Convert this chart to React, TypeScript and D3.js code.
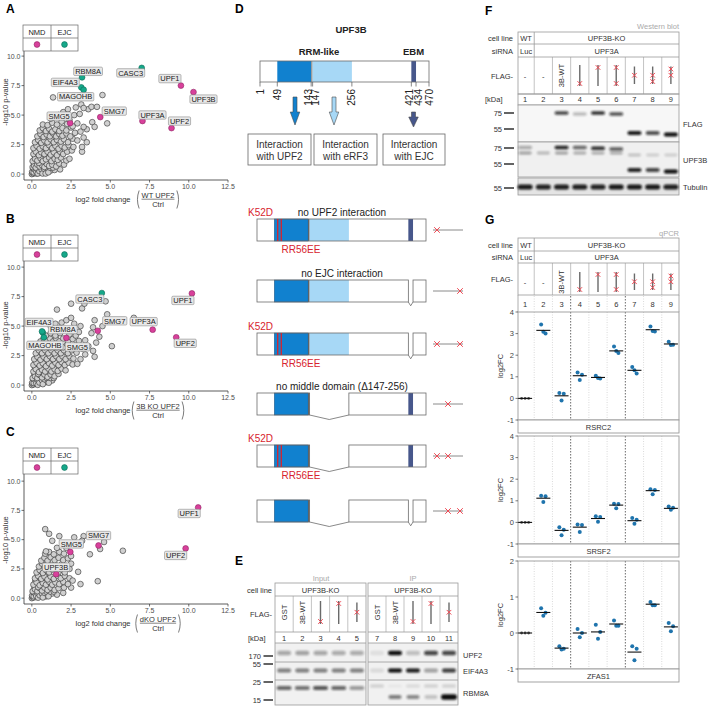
import React from "react";
import * as d3 from "d3";

const FONT = "'Liberation Sans', Arial, Helvetica, sans-serif";
let _ctx: CanvasRenderingContext2D | null = null;
function textW(s: string, size: number, weight: string = "normal"): number {
  if (!_ctx) _ctx = document.createElement("canvas").getContext("2d");
  if (!_ctx) return s.length * size * 0.6;
  _ctx.font = `${weight} ${size}px 'Liberation Sans', Arial, sans-serif`;
  return _ctx.measureText(s).width;
}

// ---------------- Volcano data (A, B, C) ----------------
const scatterTicksX = [0, 2.5, 5, 7.5, 10, 12.5];
const scatterTicksY = [0, 2.5, 5, 7.5, 10];

const bgA: [number, number][] = [
  [0,0],[0.05,0.1],[0.1,0.05],[0.15,0.2],[0.2,0.1],[0.25,0.3],[0.3,0.05],[0.35,0.2],[0.45,0.1],[0.5,0.35],[0.6,0.15],[0.7,0.3],[0.85,0.2],[1.0,0.4],[1.2,0.3],[1.45,0.35],[1.8,0.4],[0.1,0.35],[0.4,0.4],
  [0.02,0.2],[0.08,0.45],[0.12,0.15],[0.18,0.4],[0.22,0.65],[0.28,0.2],[0.32,0.45],[0.38,0.05],[0.42,0.7],[0.48,0.25],[0.55,0.55],[0.62,0.4],[0.68,0.05],[0.72,0.9],[0.78,0.45],[0.88,0.05],[0.92,0.55],[1.05,0.15],[1.15,0.55],[1.35,0.55],
  [0.15,0.95],[0.3,1.0],[0.6,1.05],[0.8,1.3],[1.0,1.05],[0.4,1.5],[0.7,1.55],[0.95,1.6],[0.2,1.45],[0.55,1.8],[0.35,1.75],[1.15,1.75],[0.85,2.0],[0.6,2.45],[0.45,2.3],
  [0.05,0.6],[0.15,0.7],[0.25,0.55],[0.35,0.8],[0.5,0.65],[0.65,0.75],[0.8,0.6],[0.95,0.85],[1.1,0.7],[1.3,0.8],[1.55,0.65],[1.75,0.9],[2.05,0.8],[0.45,0.95],
  [0.05,1.1],[0.2,1.3],[0.35,1.15],[0.55,1.35],[0.7,1.1],[0.9,1.25],[1.1,1.4],[1.25,1.1],[1.45,1.3],[1.65,1.2],[1.85,1.4],[2.2,1.15],[2.4,1.3],
  [0.1,1.7],[0.25,1.9],[0.45,1.6],[0.6,1.85],[0.8,1.7],[1.0,1.9],[1.2,1.65],[1.4,1.85],[1.6,1.6],[1.8,1.9],[2.0,1.7],[2.25,1.9],[2.55,2.0],[3.2,1.9],
  [0.1,2.2],[0.3,2.4],[0.5,2.15],[0.7,2.35],[0.9,2.2],[1.1,2.45],[1.3,2.2],[1.5,2.4],[1.7,2.15],[1.9,2.4],[2.1,2.25],[2.35,2.45],[2.65,2.3],[3.2,2.3],
  [0.2,2.7],[0.4,2.9],[0.6,2.65],[0.8,2.85],[1.0,2.7],[1.2,2.95],[1.4,2.7],[1.6,2.9],[1.85,2.75],[2.05,2.95],[2.3,2.7],[2.6,3.0],[2.9,2.85],[3.5,2.7],
  [0.35,3.2],[0.55,3.4],[0.75,3.15],[0.95,3.35],[1.15,3.2],[1.35,3.45],[1.55,3.2],[1.75,3.4],[1.95,3.25],[2.2,3.45],[2.45,3.2],[2.75,3.5],[3.3,3.1],
  [0.5,3.7],[0.7,3.9],[0.9,3.65],[1.1,3.85],[1.3,3.6],[1.5,3.8],[1.75,3.65],[1.95,3.9],[2.2,3.7],[2.5,3.95],[3.1,3.6],[3.5,3.8],
  [0.7,4.2],[1.0,4.15],[1.3,4.35],[1.6,4.2],[1.9,4.45],[2.25,4.25],[2.9,4.3],[3.3,4.0],[3.85,4.4],[4.0,4.0],[2.6,4.05],
  [1.2,4.7],[1.7,5.0],[2.0,5.25],[2.2,4.9],[2.4,4.6],[2.7,5.0],[3.05,5.1],[2.3,5.5],[4.8,4.3],[3.6,5.5],[1.5,4.9],
  [1.35,6.5],[2.8,5.65],[3.15,5.9],[3.3,5.6],[3.8,5.7],[4.15,5.7],[4.5,6.7]
];
const genesA = ["CASC3","UPF1","UPF3B","UPF3A","UPF2","SMG7","SMG5","RBM8A","EIF4A3","MAGOHB"];
const groupsA = ["EJC","NMD","NMD","NMD","NMD","NMD","NMD","EJC","EJC","EJC"];
const fcA = [7.0, 9.5, 10.3, 7.05, 8.9, 4.36, 2.44, 3.2, 3.15, 3.3];
const pA = [9.0, 7.5, 6.95, 4.5, 3.9, 4.83, 4.32, 8.2, 7.35, 7.15];

const bgB: [number, number][] = [
  [0,0],[0.05,0.1],[0.1,0.05],[0.15,0.25],[0.25,0.1],[0.3,0.3],[0.4,0.15],[0.5,0.4],[0.6,0.2],[0.75,0.35],[0.9,0.25],[1.1,0.45],[1.3,0.4],[0.1,0.4],
  [0.02,0.2],[0.08,0.5],[0.12,0.18],[0.2,0.45],[0.22,0.62],[0.28,0.15],[0.34,0.48],[0.38,0.02],[0.44,0.72],[0.48,0.22],[0.56,0.58],[0.64,0.42],[0.7,0.08],[0.74,0.95],[0.8,0.5],[0.95,0.6],[1.08,0.2],[1.18,0.6],[1.4,0.6],
  [0.15,0.98],[0.3,1.05],[0.6,1.02],[0.82,1.35],[1.02,1.08],[0.42,1.52],[0.72,1.58],[0.98,1.62],[0.22,1.48],[0.58,1.82],[0.38,1.78],[1.18,1.78],[0.88,2.05],[0.62,2.5],[0.48,2.32],
  [0.05,0.6],[0.2,0.75],[0.35,0.6],[0.5,0.85],[0.65,0.65],[0.8,0.9],[1.0,0.7],[1.2,0.9],[1.45,0.75],[1.7,0.95],[0.4,0.95],
  [0.1,1.15],[0.25,1.35],[0.45,1.1],[0.65,1.3],[0.85,1.15],[1.05,1.4],[1.25,1.15],[1.45,1.35],[1.65,1.2],[1.9,1.4],[2.15,1.25],
  [0.1,1.7],[0.3,1.9],[0.5,1.65],[0.7,1.85],[0.9,1.6],[1.1,1.85],[1.3,1.65],[1.5,1.9],[1.7,1.7],[1.9,1.95],[2.1,1.7],[2.35,1.9],[2.6,1.75],[2.9,1.8],
  [0.15,2.2],[0.35,2.4],[0.55,2.15],[0.75,2.4],[0.95,2.2],[1.15,2.45],[1.35,2.2],[1.55,2.45],[1.75,2.2],[1.95,2.45],[2.15,2.2],[2.4,2.45],[2.65,2.25],[3.1,2.2],
  [0.25,2.7],[0.45,2.95],[0.65,2.7],[0.85,2.95],[1.05,2.7],[1.25,2.95],[1.45,2.7],[1.65,2.95],[1.85,2.7],[2.05,2.95],[2.3,2.7],[2.55,2.95],[2.85,2.75],[3.4,2.6],[4.0,2.4],[3.9,2.9],
  [0.4,3.2],[0.6,3.45],[0.8,3.2],[1.0,3.45],[1.2,3.2],[1.4,3.45],[1.6,3.2],[1.8,3.45],[2.0,3.2],[2.25,3.45],[2.5,3.2],[2.8,3.4],[3.2,3.1],[3.6,3.3],[5.1,3.3],
  [0.55,3.7],[0.75,3.95],[0.95,3.7],[1.15,3.95],[1.35,3.7],[1.55,3.95],[1.75,3.7],[2.0,3.95],[2.3,3.7],[2.6,3.9],[3.0,3.75],[3.4,3.8],[4.1,3.6],
  [0.9,4.2],[1.2,4.4],[1.5,4.2],[1.8,4.4],[2.4,4.3],[2.8,4.2],[3.8,4.4],[4.3,4.1],[3.0,4.5],
  [1.2,5.0],[1.5,5.2],[1.9,5.3],[2.2,5.5],[2.6,4.7],[2.7,5.2],[3.1,5.0],[3.9,4.9],[4.5,5.0],[4.0,5.5],[1.8,4.8],
  [1.6,6.4],[2.5,5.7],[2.5,6.9],[3.2,6.5],[3.35,6.9],[3.5,7.3],[4.7,7.1],[4.8,6.0],[6.5,5.7]
];
const genesB = ["UPF1","CASC3","UPF3A","UPF2","SMG7","SMG5","RBM8A","EIF4A3","MAGOHB"];
const groupsB = ["NMD","EJC","NMD","NMD","NMD","NMD","EJC","EJC","EJC"];
const fcB = [10.2, 4.46, 7.7, 9.2, 4.2, 2.2, 0.7, 0.65, 0.77];
const pB = [7.77, 7.8, 4.7, 4.05, 4.6, 4.0, 4.45, 4.55, 4.05];

const bgC: [number, number][] = [
  [0,0],[0.05,0.1],[0.1,0.05],[0.15,0.25],[0.25,0.1],[0.3,0.3],[0.4,0.15],[0.5,0.4],[0.6,0.2],[0.75,0.35],[0.9,0.15],[1.1,0.3],[1.3,0.4],[1.6,0.3],[2.0,0.45],[0.1,0.4],
  [0.02,0.22],[0.08,0.48],[0.12,0.16],[0.2,0.42],[0.24,0.64],[0.28,0.18],[0.34,0.46],[0.4,0.04],[0.44,0.7],[0.5,0.24],[0.56,0.56],[0.64,0.4],[0.7,0.06],[0.74,0.9],[0.8,0.46],[0.92,0.56],[1.06,0.16],[1.18,0.56],[1.4,0.56],
  [0.16,0.96],[0.3,1.02],[0.6,1.04],[0.82,1.32],[1.02,1.06],[0.42,1.5],[0.72,1.56],[0.96,1.6],[0.22,1.46],[0.56,1.82],[0.36,1.76],[1.16,1.76],[0.86,2.02],[0.62,2.46],[0.46,2.32],
  [0.05,0.6],[0.2,0.75],[0.35,0.6],[0.5,0.85],[0.65,0.65],[0.8,0.9],[1.0,0.7],[1.2,0.9],[1.45,0.7],[1.7,0.85],[2.05,0.9],[2.5,0.9],[0.4,0.95],
  [0.1,1.15],[0.3,1.35],[0.5,1.1],[0.7,1.3],[0.9,1.15],[1.1,1.4],[1.3,1.15],[1.5,1.35],[1.75,1.2],[2.0,1.4],[2.3,1.2],[3.1,1.2],[4.2,1.45],
  [0.2,1.7],[0.4,1.9],[0.6,1.65],[0.8,1.85],[1.0,1.6],[1.2,1.85],[1.4,1.65],[1.65,1.9],[1.85,1.7],[2.1,1.9],[2.4,1.7],[2.6,1.5],
  [0.3,2.2],[0.5,2.4],[0.7,2.15],[0.9,2.4],[1.1,2.2],[1.3,2.45],[1.7,2.2],[1.9,2.45],[2.1,2.2],[2.4,2.5],[2.95,2.25],
  [0.45,2.7],[0.65,2.95],[0.85,2.7],[1.05,2.95],[1.25,2.7],[1.45,2.95],[1.65,2.7],[1.9,2.9],[2.2,2.75],[2.5,2.95],
  [0.6,3.2],[0.8,3.45],[1.0,3.2],[1.2,3.5],[1.45,3.25],[1.7,3.45],[2.0,3.25],[2.3,3.4],[0.85,3.8],[1.1,3.95],[1.4,3.75],[1.75,3.95],[2.05,3.8],[2.5,3.6],[3.7,3.75],
  [0.9,4.0],[1.6,4.3],[2.2,4.3],[1.3,4.9],[0.85,5.9],[1.1,5.5],[1.75,5.3],[2.7,5.2],[3.3,5.3],[3.2,4.9],[4.6,4.8],[4.35,4.2],[5.8,4.05],[2.2,4.6]
];
const genesC = ["UPF1","UPF2","SMG7","SMG5","UPF3B"];
const groupsC = ["NMD","NMD","NMD","NMD","NMD"];
const fcC = [10.6, 9.8, 4.25, 2.45, 1.55];
const pC = [7.75, 4.25, 4.5, 3.95, 2.05];

// label placement (pixel offsets from the point)
const offA: Record<string, [number, number]> = {
  CASC3: [-11, 5], UPF1: [-11, -7], UPF3B: [10, 7], UPF3A: [10, -6], UPF2: [8, -7],
  SMG7: [14, -6], SMG5: [-11, -7], RBM8A: [6, -6], EIF4A3: [-16, -5], MAGOHB: [-8, 7]
};
const offB: Record<string, [number, number]> = {
  UPF1: [-9, 7], CASC3: [-12, 6], UPF3A: [-9, -8], UPF2: [9, 6], SMG7: [17, -10],
  SMG5: [11, 9], EIF4A3: [-3, -9], RBM8A: [20, -3], MAGOHB: [1, 8]
};
const offC: Record<string, [number, number]> = {
  UPF1: [-9, 6], UPF2: [-10, 7], SMG7: [0, -10], SMG5: [1, -8], UPF3B: [0, -7]
};

// ---------------- Panel D data ----------------
const topTicks = [1, 49, 143, 147, 256, 421, 434, 470];
const variantTitles = ["no UPF2 interaction", "no EJC interaction", "", "no middle domain (\u0394147-256)", "", ""];
const variantMut = [true, false, true, false, true, false];
const variantDelMid = [false, false, false, true, true, true];
const variantDelEBM = [false, true, true, false, false, true];
const variantCross = [["L"], ["R"], ["L", "R"], ["M"], ["L", "M"], ["M", "R"]];

// ---------------- Panel E data ----------------
const eLanesIn = [1, 2, 3, 4, 5];
const eLanesIp = [7, 8, 9, 10, 11];
const eFlag = ["GST", "3B-WT", "N", "C", "M"];
const eInUPF2 = [0.32, 0.34, 0.32, 0.3, 0.3];
const eInEIF4A3 = [0.5, 0.5, 0.5, 0.5, 0.5];
const eInRBM8A = [0.6, 0.55, 0.68, 0.6, 0.38];
const eIpUPF2 = [0.08, 1.0, 0.22, 0.75, 0.75];
const eIpEIF4A3 = [0.1, 1.0, 0.95, 0.35, 0.8];
const eIpRBM8A = [0.0, 0.5, 0.45, 0.2, 1.0];
const eIpRBM8Atop = [0.15, 0.04, 0.1, 0.15, 0.15];

// ---------------- Panel F / G data ----------------
const fgLanes = [1, 2, 3, 4, 5, 6, 7, 8, 9];
const fgFlag = ["-", "-", "3B-WT", "N", "C", "NC", "M", "MN", "MC"];
const fFlagUpper = [0, 0, 0.75, 0.25, 0.85, 0.7, 0, 0, 0];
const fFlagLower = [0, 0, 0, 0, 0, 0, 0.95, 0.7, 1.0];
const fUpf3bFull = [0.3, 0, 0.9, 0.6, 0.85, 0.65, 0, 0, 0];
const fUpf3bEndo = [0.35, 0.25, 0.35, 0.3, 0.3, 0.3, 0.2, 0.15, 0.15];
const fUpf3bDelta = [0, 0, 0, 0, 0, 0, 0.9, 0.75, 1.0];
const fTubulin = [0.95, 0.9, 0.92, 0.92, 0.9, 0.95, 0.95, 0.95, 0.92];

const rsrc2Mean = [0, 3.15, 0.12, 1.05, 0.97, 2.2, 1.3, 3.18, 2.52];
const rsrc2Reps = [[0,0,0],[3.42,3.0,3.08],[0.25,0.22,-0.1],[1.2,1.1,0.85],[1.05,0.92,0.95],[2.4,2.1,2.2],[1.45,1.15,1.3],[3.33,3.1,3.12],[2.62,2.48,2.47]];
const srsf2Mean = [0, 1.12, -0.37, -0.22, 0.18, 0.8, 0.08, 1.47, 0.65];
const srsf2Reps = [[0,0,0],[1.23,1.21,0.94],[-0.22,-0.34,-0.6],[-0.1,-0.12,-0.45],[0.28,0.25,0.03],[0.86,0.85,0.66],[0.2,0.12,-0.06],[1.53,1.5,1.3],[0.74,0.68,0.58]];
const zfas1Mean = [0, 0.57, -0.42, 0, 0.03, 0.25, -0.53, 0.8, 0.17];
const zfas1Reps = [[0,0,0],[0.69,0.56,0.48],[-0.37,-0.44,-0.46],[0.11,0,-0.12],[0.23,0.03,-0.16],[0.35,0.2,0.2],[-0.37,-0.44,-0.76],[0.86,0.77,0.77],[0.28,0.19,0.05]];
const ticksWide = [-1, 0, 1, 2, 3, 4];
const ticksNarrow = [-1, 0, 1, 2];

// ---------------- styles ----------------
const PINK = "#d8409b";
const PINK_S = "#8e2463";
const GREEN = "#16a88a";
const GREEN_S = "#0b6b57";
const DB = "#1181cf";
const LB = "#a7d8f6";
const EB = "#47578b";
const RED = "#d7232e";
const XRED = "#ef4a55";
const TXT = "#333";
const BOX = "#9a9a9a";

function Cross({ x, y, s = 2.6 }: { x: number; y: number; s?: number }) {
  return (
    <g stroke={XRED} strokeWidth={1}>
      <line x1={x - s} y1={y - s} x2={x + s} y2={y + s} />
      <line x1={x - s} y1={y + s} x2={x + s} y2={y - s} />
    </g>
  );
}

function PanelLabel({ x, y, t }: { x: number; y: number; t: string }) {
  return <text x={x} y={y} fontSize={12} fontWeight="bold" fill="#000">{t}</text>;
}

function Scatter(props: {
  bg: [number, number][]; genes: string[]; groups: string[]; fc: number[]; p: number[];
  offsets: Record<string, [number, number]>; axisY: number; unit: number; legendTop: number;
  ylabelY: number; numerator: string;
}) {
  const { bg, genes, groups, fc, p, offsets, axisY, unit, legendTop, ylabelY, numerator } = props;
  const x = d3.scaleLinear().domain([-0.5, 12.5]).range([24, 228]);
  const y = d3.scaleLinear().domain([-0.5, 10]).range([axisY, axisY - 10.5 * unit]);
  const fmt = d3.format(".1f");
  const axTop = legendTop + 26;
  const numW = textW(numerator, 7.5);
  const fx = 158;
  const lx = fx - numW / 2 - 4;
  const rx = fx + numW / 2 + 4;
  return (
    <g>
      <line x1={24} x2={228} y1={axisY} y2={axisY} stroke="#333" strokeWidth={0.8} />
      <line x1={24} x2={24} y1={axTop} y2={axisY} stroke="#333" strokeWidth={0.8} />
      {scatterTicksX.map((t) => (
        <g key={"x" + t}>
          <line x1={x(t)} x2={x(t)} y1={axisY} y2={axisY + 2.5} stroke="#333" strokeWidth={0.7} />
          <text x={x(t)} y={axisY + 9} textAnchor="middle" fontSize={7} fill="#4d4d4d">{fmt(t)}</text>
        </g>
      ))}
      {scatterTicksY.map((t) => (
        <g key={"y" + t}>
          <line x1={21.5} x2={24} y1={y(t)} y2={y(t)} stroke="#333" strokeWidth={0.7} />
          <text x={20.5} y={y(t) + 2.5} textAnchor="end" fontSize={7} fill="#4d4d4d">{fmt(t)}</text>
        </g>
      ))}
      {bg.map((d, i) => (
        <circle key={"b" + i} cx={x(d[0])} cy={y(d[1])} r={2.85} fill="#d0d0d0" stroke="#2e2e2e" strokeWidth={0.6} />
      ))}
      {genes.map((g, i) => (
        <circle key={"h" + g} cx={x(fc[i])} cy={y(p[i])} r={2.9}
          fill={groups[i] === "NMD" ? PINK : GREEN} stroke={groups[i] === "NMD" ? PINK_S : GREEN_S} strokeWidth={0.6} />
      ))}
      {genes.map((g, i) => {
        const [dx, dy] = offsets[g];
        const cx = x(fc[i]) + dx;
        const cy = y(p[i]) + dy;
        const w = textW(g, 7.5) + 3;
        return (
          <g key={"l" + g}>
            <rect x={cx - w / 2} y={cy - 4.2} width={w} height={8.4} rx={1.2} fill="#e8e8e8" stroke="#8a8a8a" strokeWidth={0.6} />
            <text x={cx} y={cy + 2.7} textAnchor="middle" fontSize={7.5} fill="#1a1a1a">{g}</text>
          </g>
        );
      })}
      {/* legend */}
      <rect x={23} y={legendTop} width={55} height={26} fill="#fff" stroke="#666" strokeWidth={0.7} />
      <line x1={23} x2={78} y1={legendTop + 13} y2={legendTop + 13} stroke="#666" strokeWidth={0.7} />
      <line x1={51} x2={51} y1={legendTop} y2={legendTop + 26} stroke="#666" strokeWidth={0.7} />
      <text x={37} y={legendTop + 9.5} textAnchor="middle" fontSize={7.5} fill="#222">NMD</text>
      <text x={64.5} y={legendTop + 9.5} textAnchor="middle" fontSize={7.5} fill="#222">EJC</text>
      <circle cx={37} cy={legendTop + 19.5} r={2.9} fill={PINK} stroke={PINK_S} strokeWidth={0.6} />
      <circle cx={64.5} cy={legendTop + 19.5} r={2.9} fill={GREEN} stroke={GREEN_S} strokeWidth={0.6} />
      {/* axis titles */}
      <text transform={`translate(7.5,${ylabelY}) rotate(-90)`} textAnchor="middle" fontSize={7.5} fill="#333">-log10 p-value</text>
      <text x={103} y={axisY + 22} textAnchor="middle" fontSize={7.5} fill="#333">log2 fold change</text>
      <text x={fx} y={axisY + 17.5} textAnchor="middle" fontSize={7.5} fill="#333">{numerator}</text>
      <line x1={fx - numW / 2} x2={fx + numW / 2} y1={axisY + 19.2} y2={axisY + 19.2} stroke="#333" strokeWidth={0.6} />
      <text x={fx} y={axisY + 26.5} textAnchor="middle" fontSize={7.5} fill="#333">Ctrl</text>
      <path d={`M${lx + 1.6},${axisY + 10.5} Q${lx - 1.8},${axisY + 19.5} ${lx + 1.6},${axisY + 28.5}`} fill="none" stroke="#444" strokeWidth={0.7} />
      <path d={`M${rx - 1.6},${axisY + 10.5} Q${rx + 1.8},${axisY + 19.5} ${rx - 1.6},${axisY + 28.5}`} fill="none" stroke="#444" strokeWidth={0.7} />
    </g>
  );
}

function Arrow({ x, y1, y2, hs, fill }: { x: number; y1: number; y2: number; hs: number; fill: string }) {
  const sw = 4, hw = 9.5;
  const pts = [[x - sw / 2, y1], [x + sw / 2, y1], [x + sw / 2, hs], [x + hw / 2, hs], [x, y2], [x - hw / 2, hs], [x - sw / 2, hs]];
  return <polygon points={pts.map((p) => p.join(",")).join(" ")} fill={fill} stroke="#4a4a4a" strokeWidth={0.6} />;
}

function PanelD() {
  const s = d3.scaleLinear().domain([1, 470]).range([260, 429]);
  const v = d3.scaleLinear().domain([1, 470]).range([257, 426]);
  const variantTop = [219, 280, 333, 393, 445, 500];
  const H = 22;
  const labelShift: Record<number, number> = { 143: -2.8, 147: 2.8, 421: -2.2, 434: 2.2 };
  return (
    <g>
      <text x={351} y={33} textAnchor="middle" fontSize={9.5} fontWeight="bold" fill="#222">UPF3B</text>
      <text x={319} y={54.5} textAnchor="middle" fontSize={9.5} fontWeight="bold" fill="#222">RRM-like</text>
      <text x={413.5} y={54.5} textAnchor="middle" fontSize={9.5} fontWeight="bold" fill="#222">EBM</text>
      <rect x={s(1)} y={61} width={s(470) - s(1)} height={21} fill="#fff" />
      <rect x={s(49)} y={61} width={s(143) - s(49)} height={21} fill={DB} />
      <rect x={s(143)} y={61} width={s(147) - s(143)} height={21} fill="#8d8d8d" />
      <rect x={s(147)} y={61} width={s(256) - s(147)} height={21} fill={LB} />
      <rect x={s(421)} y={61} width={s(434) - s(421)} height={21} fill={EB} />
      <rect x={s(1)} y={61} width={s(470) - s(1)} height={21} fill="none" stroke="#6b6b6b" strokeWidth={0.8} />
      {topTicks.map((t) => (
        <g key={t}>
          <line x1={s(t)} x2={s(t)} y1={82} y2={86.5} stroke="#555" strokeWidth={0.7} />
          <text transform={`translate(${s(t) + (labelShift[t] || 0) + 3.5},89) rotate(-90)`} textAnchor="end" fontSize={10} fill="#222">{t}</text>
        </g>
      ))}
      <Arrow x={295} y1={97} y2={125} hs={112} fill={DB} />
      <Arrow x={334} y1={97} y2={125} hs={112} fill={LB} />
      <Arrow x={413.5} y1={112} y2={127} hs={117} fill={EB} />
      {[[248, 311, "with UPF2"], [314, 377, "with eRF3"], [383, 445, "with EJC"]].map(([a, b, t]) => (
        <g key={t as string}>
          <rect x={a as number} y={134} width={(b as number) - (a as number)} height={31} fill="#fff" stroke="#666" strokeWidth={0.8} />
          <text x={((a as number) + (b as number)) / 2} y={148} textAnchor="middle" fontSize={10} fill="#333">Interaction</text>
          <text x={((a as number) + (b as number)) / 2} y={159.5} textAnchor="middle" fontSize={10} fill="#333">{t}</text>
        </g>
      ))}
      {variantTop.map((yt, i) => {
        const yb = yt + H;
        const delMid = variantDelMid[i];
        const delEBM = variantDelEBM[i];
        const segs: [number, number][] = [];
        const ends = delEBM ? [[v(1), v(421)], [v(434), v(470)]] : [[v(1), v(470)]];
        ends.forEach(([a, b]) => {
          if (delMid && a < v(147) && b > v(256)) {
            segs.push([a, v(147)]);
            segs.push([v(256), b]);
          } else segs.push([a, b]);
        });
        return (
          <g key={i}>
            {variantTitles[i] && (
              <text x={342} y={yt - 3.5} textAnchor="middle" fontSize={10} fill="#222">{variantTitles[i]}</text>
            )}
            {segs.map(([a, b], k) => <rect key={k} x={a} y={yt} width={b - a} height={H} fill="#fff" />)}
            <rect x={v(49)} y={yt} width={v(143) - v(49)} height={H} fill={DB} stroke="#24507a" strokeWidth={0.5} />
            <rect x={v(143)} y={yt} width={v(147) - v(143)} height={H} fill="#555" />
            {!delMid && <rect x={v(147)} y={yt} width={v(256) - v(147)} height={H} fill={LB} />}
            {!delEBM && <rect x={v(421)} y={yt} width={v(434) - v(421)} height={H} fill={EB} />}
            {segs.map(([a, b], k) => <rect key={"o" + k} x={a} y={yt} width={b - a} height={H} fill="none" stroke="#6b6b6b" strokeWidth={0.8} />)}
            {delMid && (
              <polyline points={`${v(147)},${yb} ${(v(147) + v(256)) / 2},${yb + 4.5} ${v(256)},${yb}`} fill="none" stroke="#6b6b6b" strokeWidth={0.8} />
            )}
            {delEBM && (
              <polyline points={`${v(421)},${yb} ${(v(421) + v(434)) / 2},${yb + 3.8} ${v(434)},${yb}`} fill="none" stroke="#6b6b6b" strokeWidth={0.8} />
            )}
            {variantMut[i] && (
              <g>
                <line x1={v(49) + 3.4} x2={v(49) + 3.4} y1={yt} y2={yb} stroke={RED} strokeWidth={1.3} />
                <line x1={v(49) + 7} x2={v(49) + 7} y1={yt} y2={yb} stroke={RED} strokeWidth={1.3} />
                <text x={248} y={yt - 3} fontSize={10} fill={RED}>K52D</text>
                <text x={301} y={yb + 11.5} textAnchor="middle" fontSize={10} fill={RED}>RR56EE</text>
              </g>
            )}
            <line x1={433} x2={463} y1={yt + H / 2} y2={yt + H / 2} stroke="#8a8a8a" strokeWidth={1} />
            {variantCross[i].map((c) => (
              <Cross key={c} x={c === "L" ? 437 : c === "M" ? 448 : 460} y={yt + H / 2} s={2.8} />
            ))}
          </g>
        );
      })}
    </g>
  );
}

function Band({ x, y, w, h, k }: { x: number; y: number; w: number; h: number; k: number }) {
  if (k <= 0) return null;
  return <rect x={x - w / 2} y={y - h / 2} width={w} height={h} rx={h / 2} fill="#0d0d0d" opacity={k} filter="url(#blur)" />;
}

function Construct({ x, top, bottom, code }: { x: number; top: number; bottom: number; code: string }) {
  const short = code.includes("M");
  const t = short ? top + 1.5 : top;
  const b = short ? bottom - 2 : bottom;
  const marks: number[] = [];
  if (code.includes("C")) marks.push(t + 2.5);
  if (code.includes("M")) marks.push((t + b) / 2);
  if (code.includes("N")) marks.push(b - 2.5);
  return (
    <g>
      <line x1={x} x2={x} y1={t} y2={b} stroke="#6a6a6a" strokeWidth={1.4} />
      {marks.map((m, i) => <Cross key={i} x={x} y={m} s={2.3} />)}
    </g>
  );
}

function FlagCell({ x, top, bottom, code }: { x: number; top: number; bottom: number; code: string }) {
  const cy = (top + bottom) / 2;
  if (code === "-") return <text x={x} y={cy + 3} textAnchor="middle" fontSize={7.5} fill={TXT}>-</text>;
  if (code === "GST" || code === "3B-WT")
    return <text transform={`translate(${x + 2.6},${cy}) rotate(-90)`} textAnchor="middle" fontSize={7.5} fill={TXT}>{code}</text>;
  return <Construct x={x} top={top} bottom={bottom} code={code} />;
}

function PanelE() {
  const bl = d3.scaleBand<number>().domain(eLanesIn).range([275, 366]);
  const br = d3.scaleBand<number>().domain(eLanesIp).range([368, 458]);
  const top = 583, r1 = 596, r2 = 632, r3 = 643, b1 = 662, b2 = 680, bot = 705;
  const boxes: [d3.ScaleBand<number>, number[], number[], number[], number[], number[] | null][] = [
    [bl, eLanesIn, eInUPF2, eInEIF4A3, eInRBM8A, null],
    [br, eLanesIp, eIpUPF2, eIpEIF4A3, eIpRBM8A, eIpRBM8Atop],
  ];
  return (
    <g>
      <text x={321} y={580.5} textAnchor="middle" fontSize={7.5} fill="#aaa">Input</text>
      <text x={413} y={580.5} textAnchor="middle" fontSize={7.5} fill="#aaa">IP</text>
      <text x={272} y={592.5} textAnchor="end" fontSize={7.5} fill={TXT}>cell line</text>
      <text x={272} y={617} textAnchor="end" fontSize={7.5} fill={TXT}>FLAG-</text>
      <text x={248} y={641} fontSize={7.5} fill={TXT}>[kDa]</text>
      {[["170", 656], ["55", 664], ["25", 682], ["15", 700]].map(([t, yy]) => (
        <g key={t as string}>
          <text x={261} y={(yy as number) + 2.7} textAnchor="end" fontSize={7.5} fill={TXT}>{t}</text>
          <line x1={263.5} x2={273} y1={yy as number} y2={yy as number} stroke="#222" strokeWidth={1.4} />
        </g>
      ))}
      {boxes.map(([sc, lanes, upf2, eif, rbm, rbmTop], bi) => {
        const [x0, x1] = sc.range();
        const bw = sc.bandwidth();
        return (
          <g key={bi}>
            <rect x={x0} y={r3} width={x1 - x0} height={bot - r3} fill="#f1f1f1" />
            <rect x={x0} y={top} width={x1 - x0} height={bot - top} fill="none" stroke={BOX} strokeWidth={0.8} />
            {[r1, r2, r3, b1, b2].map((yy) => <line key={yy} x1={x0} x2={x1} y1={yy} y2={yy} stroke={BOX} strokeWidth={0.8} />)}
            <text x={(x0 + x1) / 2} y={592.5} textAnchor="middle" fontSize={7.5} fill={TXT}>UPF3B-KO</text>
            {lanes.slice(1).map((l) => (
              <line key={l} x1={sc(l)!} x2={sc(l)!} y1={r1} y2={r2} stroke={BOX} strokeWidth={0.6} />
            ))}
            {lanes.map((l, i) => {
              const cx = sc(l)! + bw / 2;
              return (
                <g key={"c" + l}>
                  <FlagCell x={cx} top={601} bottom={624} code={eFlag[i]} />
                  <text x={cx} y={640.5} textAnchor="middle" fontSize={7.5} fill={TXT}>{l}</text>
                  <Band x={cx} y={653} w={14} h={4.5} k={upf2[i]} />
                  <Band x={cx} y={670.5} w={14} h={3.8} k={eif[i]} />
                  {bi === 0 ? (
                    <Band x={cx} y={688} w={15} h={4} k={rbm[i]} />
                  ) : (
                    <g>
                      <Band x={cx} y={686} w={14} h={3} k={rbmTop ? rbmTop[i] : 0} />
                      <Band x={cx} y={697} w={i === 4 ? 16 : 13} h={i === 4 ? 5.5 : 3.8} k={rbm[i]} />
                    </g>
                  )}
                </g>
              );
            })}
          </g>
        );
      })}
      <text x={463} y={658} fontSize={7.5} fill={TXT}>UPF2</text>
      <text x={463} y={673.5} fontSize={7.5} fill={TXT}>EIF4A3</text>
      <text x={463} y={696} fontSize={7.5} fill={TXT}>RBM8A</text>
    </g>
  );
}

function LaneHeader({ top, r1, r2, r3, lineTop, lineBottom, sc }: {
  top: number; r1: number; r2: number; r3: number; lineTop: number; lineBottom: number; sc: d3.ScaleBand<number>;
}) {
  const bw = sc.bandwidth();
  const x0 = 518, x1 = 679;
  const split = sc(2)!;
  return (
    <g>
      <rect x={x0} y={top} width={x1 - x0} height={r3 - top} fill="none" stroke={BOX} strokeWidth={0.8} />
      <line x1={x0} x2={x1} y1={r1} y2={r1} stroke={BOX} strokeWidth={0.8} />
      <line x1={x0} x2={x1} y1={r2} y2={r2} stroke={BOX} strokeWidth={0.8} />
      <line x1={split} x2={split} y1={top} y2={r2} stroke={BOX} strokeWidth={0.8} />
      {fgLanes.slice(1).map((l) => (
        <line key={l} x1={sc(l)!} x2={sc(l)!} y1={r2} y2={r3} stroke={BOX} strokeWidth={0.6} />
      ))}
      <text x={513} y={r1 - 3.5} textAnchor="end" fontSize={7.5} fill={TXT}>cell line</text>
      <text x={513} y={r2 - 3.5} textAnchor="end" fontSize={7.5} fill={TXT}>siRNA</text>
      <text x={513} y={(r2 + r3) / 2 + 3} textAnchor="end" fontSize={7.5} fill={TXT}>FLAG-</text>
      <text x={(x0 + split) / 2} y={r1 - 3.5} textAnchor="middle" fontSize={7.5} fill={TXT}>WT</text>
      <text x={(split + x1) / 2} y={r1 - 3.5} textAnchor="middle" fontSize={7.5} fill={TXT}>UPF3B-KO</text>
      <text x={(x0 + split) / 2} y={r2 - 3.5} textAnchor="middle" fontSize={7.5} fill={TXT}>Luc</text>
      <text x={(split + x1) / 2} y={r2 - 3.5} textAnchor="middle" fontSize={7.5} fill={TXT}>UPF3A</text>
      {fgLanes.map((l, i) => (
        <FlagCell key={l} x={sc(l)! + bw / 2} top={lineTop} bottom={lineBottom} code={fgFlag[i]} />
      ))}
    </g>
  );
}

function PanelF() {
  const sc = d3.scaleBand<number>().domain(fgLanes).range([516, 680]);
  const bw = sc.bandwidth();
  const x0 = 518, x1 = 679;
  return (
    <g>
      <text x={679} y={29} textAnchor="end" fontSize={7.5} fill="#aaa">Western blot</text>
      <LaneHeader top={32} r1={44} r2={57} r3={94} lineTop={65} lineBottom={86} sc={sc} />
      <rect x={x0} y={94} width={x1 - x0} height={11} fill="none" stroke={BOX} strokeWidth={0.8} />
      <text x={485} y={102} fontSize={7.5} fill={TXT}>[kDa]</text>
      <rect x={x0} y={105} width={x1 - x0} height={37} fill="#f7f7f7" stroke={BOX} strokeWidth={0.8} />
      <rect x={x0} y={142} width={x1 - x0} height={35} fill="#f0f0f0" stroke={BOX} strokeWidth={0.8} />
      <rect x={x0} y={178} width={x1 - x0} height={17} fill="#e4e4e4" stroke={BOX} strokeWidth={0.8} />
      {fgLanes.map((l, i) => {
        const cx = sc(l)! + bw / 2;
        return (
          <g key={l}>
            <text x={cx} y={102} textAnchor="middle" fontSize={7.5} fill={TXT}>{l}</text>
            <Band x={cx} y={i === 3 || i === 5 ? 114 : 113} w={14} h={3.5} k={fFlagUpper[i]} />
            <Band x={cx} y={i === 8 ? 134.5 : 133} w={14} h={4} k={fFlagLower[i]} />
            <Band x={cx} y={147.5 + (i >= 4 ? (i - 3) * 0.8 : 0)} w={14} h={3.5} k={fUpf3bFull[i]} />
            <Band x={cx} y={i >= 6 ? 155 : 153} w={13} h={2.8} k={fUpf3bEndo[i]} />
            <Band x={cx} y={i === 8 ? 171.5 : 170} w={14} h={4} k={fUpf3bDelta[i]} />
            <Band x={cx} y={187} w={15} h={5} k={fTubulin[i]} />
          </g>
        );
      })}
      {[["75", 113], ["55", 129], ["75", 148], ["55", 164], ["55", 188]].map(([t, yy], k) => (
        <g key={k}>
          <text x={502} y={(yy as number) + 2.7} textAnchor="end" fontSize={7.5} fill={TXT}>{t}</text>
          <line x1={504} x2={514} y1={yy as number} y2={yy as number} stroke="#222" strokeWidth={1.4} />
        </g>
      ))}
      <text x={683} y={127} fontSize={7.5} fill={TXT}>FLAG</text>
      <text x={683} y={163} fontSize={7.5} fill={TXT}>UPF3B</text>
      <text x={683} y={190} fontSize={7.5} fill={TXT}>Tubulin</text>
    </g>
  );
}

function PanelG() {
  const sc = d3.scaleBand<number>().domain(fgLanes).range([516, 680]);
  const bw = sc.bandwidth();
  const x0 = 518, x1 = 679;
  const facets = [
    { name: "RSRC2", top: 312, bottom: 420, dom: [-1, 4], ticks: ticksWide, mean: rsrc2Mean, reps: rsrc2Reps },
    { name: "SRSF2", top: 436, bottom: 544, dom: [-1, 4], ticks: ticksWide, mean: srsf2Mean, reps: srsf2Reps },
    { name: "ZFAS1", top: 561, bottom: 669, dom: [-1, 2], ticks: ticksNarrow, mean: zfas1Mean, reps: zfas1Reps },
  ];
  const jitter = [-2.2, 2.2, 0];
  const divider = (l: number, y1: number, y2: number) => {
    const dark = l === 4 || l === 7;
    return (
      <line key={"d" + l + "_" + y1} x1={sc(l)!} x2={sc(l)!} y1={y1} y2={y2}
        stroke={dark ? "#6a6a6a" : "#d0d0d0"} strokeWidth={dark ? 1 : 0.8} strokeDasharray={dark ? "1.5,1.5" : "1,1.5"} />
    );
  };
  return (
    <g>
      <text x={679} y={235.5} textAnchor="end" fontSize={7.5} fill="#aaa">qPCR</text>
      <LaneHeader top={238} r1={251} r2={263} r3={295} lineTop={272} lineBottom={292} sc={sc} />
      <line x1={x0} x2={x0} y1={295} y2={312} stroke={BOX} strokeWidth={0.8} />
      <line x1={x1} x2={x1} y1={295} y2={312} stroke={BOX} strokeWidth={0.8} />
      {fgLanes.slice(1).map((l) => divider(l, 296, 311))}
      {fgLanes.map((l) => (
        <text key={"n" + l} x={sc(l)! + bw / 2} y={307} textAnchor="middle" fontSize={7.5} fill={TXT}>{l}</text>
      ))}
      {facets.map((f) => {
        const y = d3.scaleLinear().domain(f.dom).range([f.bottom, f.top]);
        return (
          <g key={f.name}>
            {fgLanes.slice(1).map((l) => divider(l, f.top, f.bottom))}
            <rect x={x0} y={f.top} width={x1 - x0} height={f.bottom - f.top} fill="none" stroke={BOX} strokeWidth={0.9} />
            <rect x={x0} y={f.bottom} width={x1 - x0} height={13} fill="#fff" stroke={BOX} strokeWidth={0.9} />
            <text x={(x0 + x1) / 2} y={f.bottom + 9.5} textAnchor="middle" fontSize={7.5} fill={TXT}>{f.name}</text>
            {f.ticks.map((t) => (
              <g key={t}>
                <line x1={515.5} x2={518} y1={y(t)} y2={y(t)} stroke="#444" strokeWidth={0.7} />
                <text x={514} y={y(t) + 2.6} textAnchor="end" fontSize={7.5} fill="#444">{t}</text>
              </g>
            ))}
            <text transform={`translate(502.5,${(f.top + f.bottom) / 2}) rotate(-90)`} textAnchor="middle" fontSize={7.5} fill="#333">log2FC</text>
            {fgLanes.map((l, i) => {
              const cx = sc(l)! + bw / 2;
              return (
                <g key={l}>
                  {f.reps[i].map((r, k) => (
                    <circle key={k} cx={cx + (i === 0 ? (k - 1) * 3.5 : jitter[k])} cy={y(r)} r={i === 0 ? 1.4 : 2}
                      fill={i === 0 ? "#555" : "#1f74ad"} />
                  ))}
                  <line x1={cx - 7} x2={cx + 7} y1={y(f.mean[i])} y2={y(f.mean[i])} stroke="#111" strokeWidth={1.1} />
                </g>
              );
            })}
          </g>
        );
      })}
    </g>
  );
}

export default function App() {
  return (
    <svg width={708} height={706} viewBox="0 0 708 706" fontFamily={FONT}
      style={{ position: "absolute", left: 0, top: 0, display: "block", background: "#fff" }}>
      <defs>
        <filter id="blur" x="-50%" y="-150%" width="200%" height="400%">
          <feGaussianBlur stdDeviation="1.0" />
        </filter>
      </defs>
      <rect width={708} height={706} fill="#fff" />
      <PanelLabel x={6} y={13} t="A" />
      <PanelLabel x={6} y={223} t="B" />
      <PanelLabel x={6} y={436} t="C" />
      <PanelLabel x={235} y={13} t="D" />
      <PanelLabel x={235} y={565} t="E" />
      <PanelLabel x={485} y={15} t="F" />
      <PanelLabel x={485} y={224} t="G" />
      <Scatter bg={bgA} genes={genesA} groups={groupsA} fc={fcA} p={pA} offsets={offA}
        axisY={180} unit={11.8} legendTop={25} ylabelY={102} numerator="WT UPF2" />
      <Scatter bg={bgB} genes={genesB} groups={groupsB} fc={fcB} p={pB} offsets={offB}
        axisY={391} unit={11.8} legendTop={235} ylabelY={325} numerator="3B KO UPF2" />
      <Scatter bg={bgC} genes={genesC} groups={groupsC} fc={fcC} p={pC} offsets={offC}
        axisY={604} unit={11.7} legendTop={448} ylabelY={540} numerator="dKO UPF2" />
      <PanelD />
      <PanelE />
      <PanelF />
      <PanelG />
    </svg>
  );
}
